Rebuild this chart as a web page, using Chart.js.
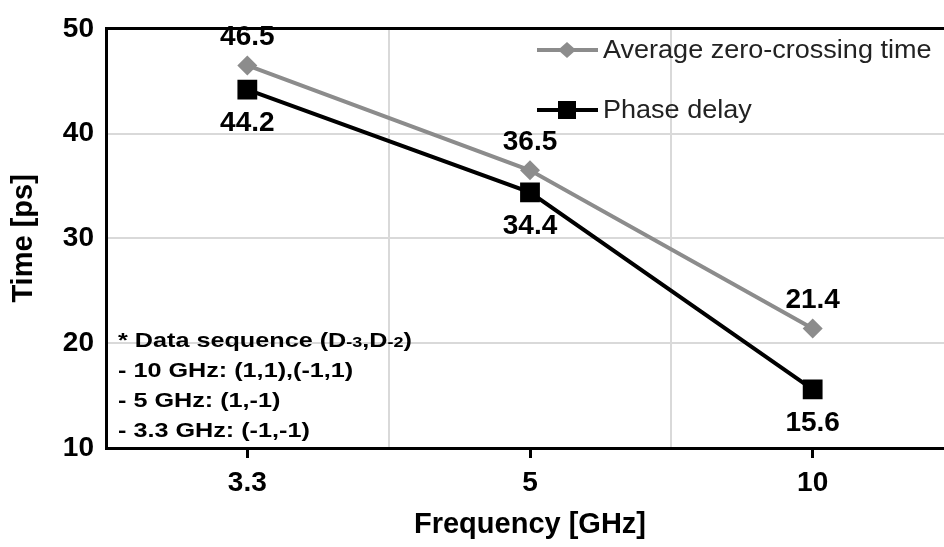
<!DOCTYPE html>
<html><head><meta charset="utf-8">
<script src="https://cdn.jsdelivr.net/npm/chart.js@4.4.1/dist/chart.umd.min.js"></script>
<style>html,body{margin:0;padding:0;overflow:hidden;background:#fff;width:944px;height:547px}canvas{display:block}</style>
</head><body>
<canvas id="c" width="968" height="547"></canvas>
<script>
const categories = ['3.3', '5', '10'];
const zeroCrossing = [46.5, 36.5, 21.4];
const phaseDelay = [44.2, 34.4, 15.6];
const yTicks = [10, 20, 30, 40, 50];
const seriesNames = ['Average zero-crossing time', 'Phase delay'];
const xTitle = 'Frequency [GHz]';
const yTitle = 'Time [ps]';
const noteLines = [
  [['* Data sequence (D', 0], ['-3', 1], [',D', 0], ['-2', 1], [')', 0]],
  [['- 10 GHz: (1,1),(-1,1)', 0]],
  [['- 5 GHz: (1,-1)', 0]],
  [['- 3.3 GHz: (-1,-1)', 0]]
];

const FONT = '"Liberation Sans", Arial, sans-serif';
const GRAY = '#8c8c8c';
const GRID = '#d9d9d9';

const labelPlugin = {
  id: 'extras',
  afterDatasetsDraw(chart) {
    const ctx = chart.ctx;
    ctx.save();
    // data labels
    ctx.font = 'bold 28px ' + FONT;
    ctx.fillStyle = '#000';
    ctx.textAlign = 'center';
    ctx.textBaseline = 'middle';
    chart.data.datasets.forEach((ds, i) => {
      const meta = chart.getDatasetMeta(i);
      meta.data.forEach((pt, j) => {
        const off = i === 0 ? -28 : 34;
        ctx.fillText(ds.data[j].toFixed(1), pt.x, pt.y + off);
      });
    });
    // legend
    const items = [
      {y: 50, color: GRAY, shape: 'diamond'},
      {y: 110, color: '#000', shape: 'square'}
    ];
    items.forEach((it, i) => {
      ctx.strokeStyle = it.color;
      ctx.lineWidth = 4;
      ctx.beginPath();
      ctx.moveTo(537, it.y);
      ctx.lineTo(598, it.y);
      ctx.stroke();
      ctx.fillStyle = it.color;
      ctx.beginPath();
      if (it.shape === 'diamond') {
        ctx.moveTo(567, it.y - 8); ctx.lineTo(576, it.y); ctx.lineTo(567, it.y + 8); ctx.lineTo(558, it.y);
        ctx.closePath();
      } else {
        ctx.rect(558, it.y - 9, 18, 18);
      }
      ctx.fill();
      ctx.save();
      ctx.fillStyle = '#222';
      ctx.font = '25.5px ' + FONT;
      ctx.textAlign = 'left';
      ctx.textBaseline = 'middle';
      ctx.translate(603, it.y + 1);
      ctx.scale(1.06, 1);
      ctx.fillText(seriesNames[i], 0, 0);
      ctx.restore();
    });
    // note text
    const a = chart.chartArea;
    ctx.fillStyle = '#000';
    ctx.textAlign = 'left';
    ctx.textBaseline = 'alphabetic';
    noteLines.forEach((line, k) => {
      ctx.save();
      ctx.translate(a.left + 12, 347 + k * 30);
      ctx.scale(1.2, 1);
      let x = 0;
      line.forEach(([txt, small]) => {
        ctx.font = small ? 'bold 15px ' + FONT : 'bold 21px ' + FONT;
        ctx.fillText(txt, x, 0);
        x += ctx.measureText(txt).width;
      });
      ctx.restore();
    });
    ctx.restore();
  }
};

new Chart(document.getElementById('c'), {
  type: 'line',
  data: {
    labels: categories,
    datasets: [
      {label: seriesNames[0], data: zeroCrossing, borderColor: GRAY, backgroundColor: GRAY,
       borderWidth: 4, pointStyle: 'rectRot', pointRadius: 10, pointBorderWidth: 0, tension: 0},
      {label: seriesNames[1], data: phaseDelay, borderColor: '#000', backgroundColor: '#000',
       borderWidth: 4, pointStyle: 'rect', pointRadius: 14, pointBorderWidth: 0, tension: 0}
    ]
  },
  options: {
    responsive: false,
    animation: false,
    layout: {padding: {top: 20, left: 0, right: 0, bottom: 0}},
    plugins: {legend: {display: false}, tooltip: {enabled: false}},
    scales: {
      x: {
        type: 'category',
        offset: true,
        grid: {offset: false, drawOnChartArea: false, drawTicks: true, tickLength: 10, color: '#000', lineWidth: 3},
        border: {display: true, color: '#000', width: 3},
        ticks: {font: {family: FONT, size: 28, weight: 'bold'}, color: '#000', padding: 8, maxRotation: 0},
        title: {display: true, text: xTitle, font: {family: FONT, size: 29, weight: 'bold'}, color: '#000', padding: {top: 0, bottom: 5}},
        afterFit(s) { s.height = 99; }
      },
      x2: {
        type: 'category',
        position: 'bottom',
        offset: true,
        grid: {offset: true, drawOnChartArea: true, drawTicks: false, color: GRID, lineWidth: 2},
        border: {display: false},
        ticks: {display: false},
        afterFit(s) { s.height = 0; }
      },
      y: {
        min: 10, max: 50,
        afterBuildTicks(s) { s.ticks = yTicks.map(v => ({value: v})); },
        grid: {drawTicks: false,
               color: c => c.tick && c.tick.value === 50 ? '#000' : GRID,
               lineWidth: c => c.tick && c.tick.value === 50 ? 3 : 2},
        border: {display: true, color: '#000', width: 3},
        ticks: {font: {family: FONT, size: 28, weight: 'bold'}, color: '#000', padding: 12},
        title: {display: true, text: yTitle, font: {family: FONT, size: 29, weight: 'bold'}, color: '#000', padding: {top: 7, bottom: 0}},
        afterFit(s) { s.width = 106; }
      }
    }
  },
  plugins: [labelPlugin]
});
</script>
</body></html>
